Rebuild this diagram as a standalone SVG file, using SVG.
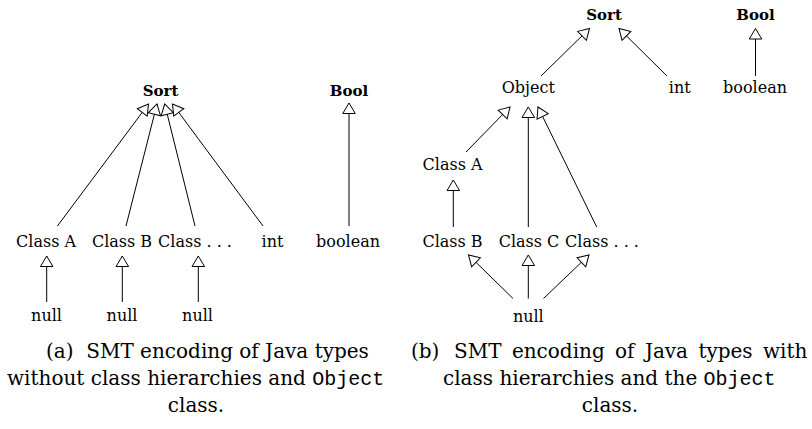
<svg xmlns="http://www.w3.org/2000/svg" width="812" height="429" viewBox="0 0 812 429">
<style>
.lbl{font-family:"DejaVu Serif",serif;font-size:16px;fill:#000;text-anchor:middle}
.bold{font-weight:bold;font-size:15px}
.cap{font-family:"DejaVu Serif",serif;font-size:20px;fill:#000}
.mid{text-anchor:middle}
.tt{font-family:"Liberation Mono",monospace}
.edge{stroke:#000;stroke-width:1;fill:none;marker-end:url(#tri)}
</style>
<defs>
<marker id="tri" viewBox="0 0 10.5 12.5" refX="10.5" refY="6.25" markerWidth="10.5" markerHeight="12.5" markerUnits="userSpaceOnUse" orient="auto" overflow="visible">
<path d="M0,0 L10.5,6.25 L0,12.5 z" fill="#fff" stroke="#000" stroke-width="1"/>
</marker>
</defs>
<rect width="812" height="429" fill="#fff"/>
<!-- left diagram -->
<g id="a-sort"><text class="lbl bold" x="160.5" y="96">Sort</text></g>
<g id="a-bool"><text class="lbl bold" x="349" y="96">Bool</text></g>
<g id="a-classA"><text class="lbl" x="46" y="247">Class A</text></g>
<g id="a-classB"><text class="lbl" x="122" y="247">Class B</text></g>
<g id="a-classDots"><text class="lbl" x="195" y="247">Class . . .</text></g>
<g id="a-int"><text class="lbl" x="272.5" y="247">int</text></g>
<g id="a-boolean"><text class="lbl" x="348" y="247">boolean</text></g>
<g id="a-null1"><text class="lbl" x="46.5" y="320.5">null</text></g>
<g id="a-null2"><text class="lbl" x="122" y="320.5">null</text></g>
<g id="a-null3"><text class="lbl" x="197.5" y="320.5">null</text></g>
<!-- right diagram -->
<g id="b-sort"><text class="lbl bold" x="604" y="20">Sort</text></g>
<g id="b-bool"><text class="lbl bold" x="755.5" y="20">Bool</text></g>
<g id="b-object"><text class="lbl" x="528.3" y="93">Object</text></g>
<g id="b-int"><text class="lbl" x="679.7" y="93">int</text></g>
<g id="b-boolean"><text class="lbl" x="755" y="93">boolean</text></g>
<g id="b-classA"><text class="lbl" x="452.5" y="170">Class A</text></g>
<g id="b-classB"><text class="lbl" x="452.5" y="247">Class B</text></g>
<g id="b-classC"><text class="lbl" x="529" y="247">Class C</text></g>
<g id="b-classDots"><text class="lbl" x="602" y="247">Class . . .</text></g>
<g id="b-null"><text class="lbl" x="528.3" y="321.5">null</text></g>
<g id="connectors">
<line class="edge" x1="57.4" y1="226" x2="148.5" y2="104"/>
<line class="edge" x1="126" y1="226" x2="157" y2="104"/>
<line class="edge" x1="195" y1="226" x2="164.7" y2="104"/>
<line class="edge" x1="263" y1="226" x2="172.5" y2="104"/>
<line class="edge" x1="349" y1="226" x2="349" y2="103"/>
<line class="edge" x1="46.7" y1="302" x2="46.7" y2="256"/>
<line class="edge" x1="122.3" y1="302" x2="122.3" y2="256"/>
<line class="edge" x1="198.3" y1="302" x2="198.3" y2="256"/>
<line class="edge" x1="541" y1="76" x2="589.5" y2="28.5"/>
<line class="edge" x1="667" y1="76" x2="619" y2="28.5"/>
<line class="edge" x1="755.5" y1="76" x2="755.5" y2="28.5"/>
<line class="edge" x1="466" y1="152" x2="510" y2="107"/>
<line class="edge" x1="528.3" y1="227" x2="528.3" y2="107"/>
<line class="edge" x1="596.7" y1="227" x2="538" y2="107"/>
<line class="edge" x1="453.3" y1="227" x2="453.3" y2="180"/>
<line class="edge" x1="513" y1="298.5" x2="468.5" y2="255"/>
<line class="edge" x1="528.3" y1="298.5" x2="528.3" y2="255"/>
<line class="edge" x1="543.5" y1="298.5" x2="589" y2="255"/>
</g>
<g id="captions">
<text class="cap" x="46" y="358">(a)&#160; SMT encoding of Java types</text>
<text class="cap" x="7" y="385">without class hierarchies and <tspan class="tt">Object</tspan></text>
<text class="cap mid" x="196" y="412">class.</text>
<text class="cap" x="411" y="358">(b)<tspan x="454" word-spacing="4">SMT encoding of Java types with</tspan></text>
<text class="cap" x="443" y="385">class hierarchies and the <tspan class="tt">Object</tspan></text>
<text class="cap mid" x="610" y="412">class.</text>
</g>
</svg>
